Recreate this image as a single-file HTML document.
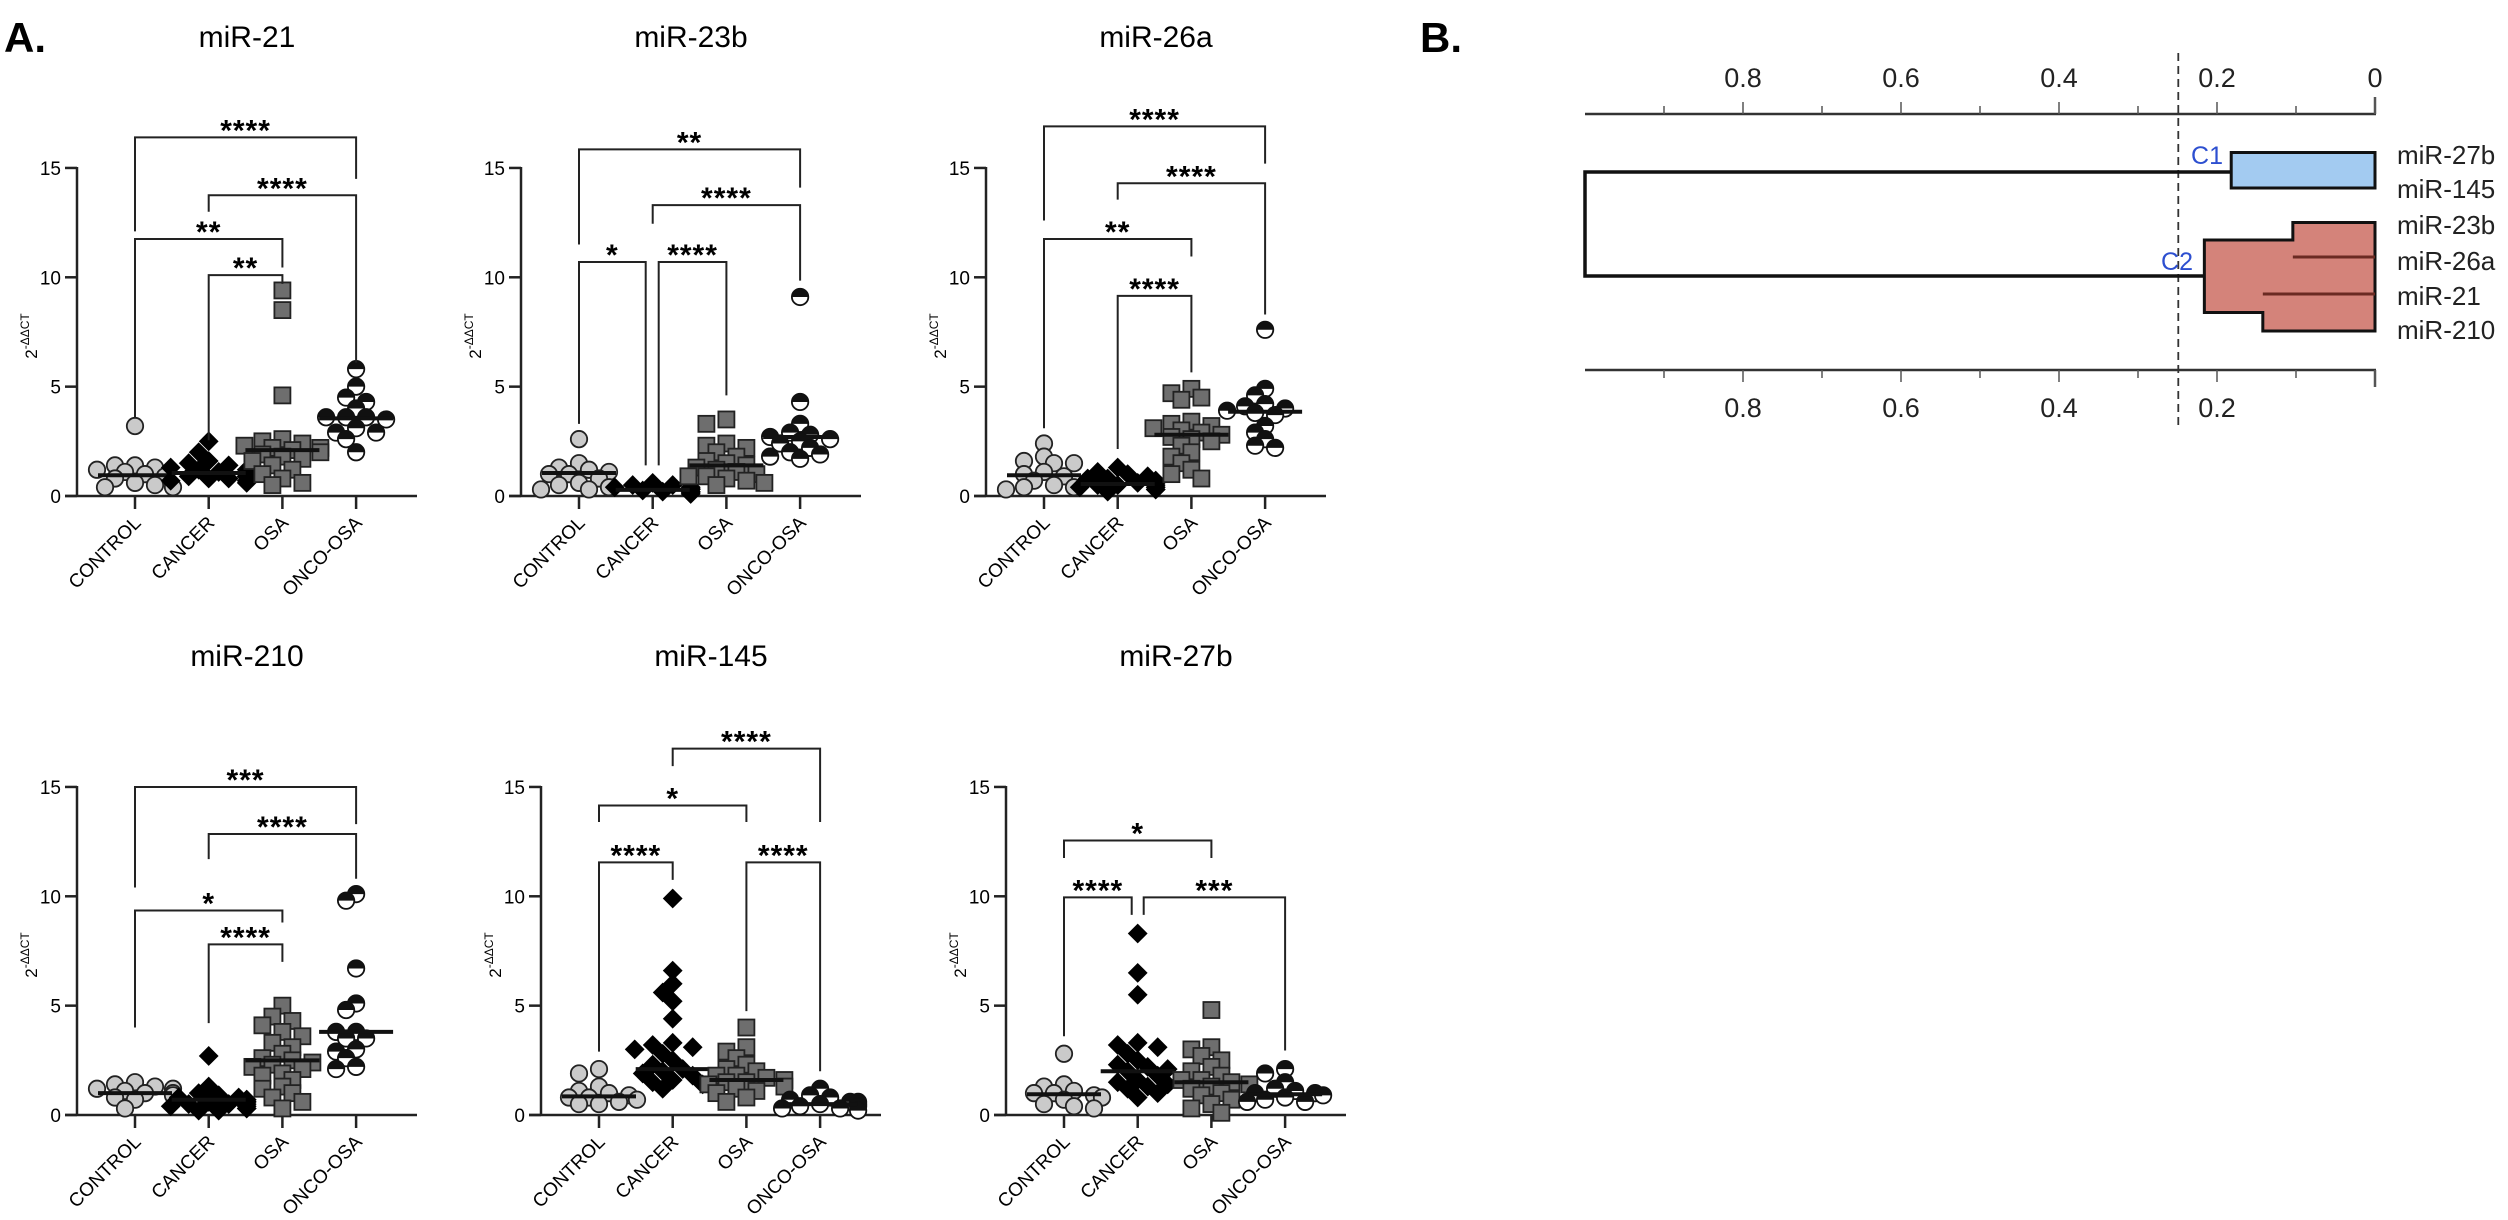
<!DOCTYPE html>
<html><head><meta charset="utf-8"><style>
html,body{margin:0;padding:0;background:#fff;}
svg{display:block;font-family:"Liberation Sans",Arial,sans-serif;}
</style></head><body>
<svg id="fig" width="2508" height="1220" viewBox="0 0 2508 1220" xmlns="http://www.w3.org/2000/svg">
<text x="4" y="52" font-size="42" font-weight="bold">A.</text>
<text x="1420" y="52" font-size="42" font-weight="bold">B.</text>
<g id="dendro"></g>
</svg>
<script>
const groups = ["CONTROL","CANCER","OSA","ONCO-OSA"];
const yTicks = [0,5,10,15];
const titles = ["miR-21","miR-23b","miR-26a","miR-210","miR-145","miR-27b"];

const p1Control=[3.2,1.4,1.3,1.2,1.4,1.0,0.9,0.8,0.6,0.5,0.4,0.4,1.1];
const p1Cancer=[2.5,2.0,1.6,1.4,1.3,1.2,1.1,1.0,0.9,0.9,0.8,0.7,0.7,0.6,1.5,1.2,1.0,0.8,1.1,0.9];
const p1Osa=[9.4,8.5,4.6,2.6,2.5,2.4,2.3,2.2,2.2,2.0,1.9,1.8,1.6,1.4,1.2,1.0,0.8,0.6,0.5,2.1,1.7];
const p1Onco=[5.8,5.0,4.5,4.3,4.0,3.6,3.6,3.6,3.5,3.1,2.9,2.9,2.6,2.0];
const p1Median=[0.95,1.05,2.1,3.55];

const p2Control=[2.6,1.5,1.3,1.2,1.1,1.0,1.0,0.8,0.6,0.4,0.3,0.3,0.5];
const p2Cancer=[0.6,0.5,0.5,0.4,0.4,0.3,0.3,0.3,0.2,0.2,0.2,0.15,0.1,0.35,0.25,0.4,0.3,0.2,0.1,0.3];
const p2Osa=[3.5,3.3,2.4,2.3,2.2,2.0,1.8,1.6,1.4,1.3,1.2,1.0,0.9,0.8,0.7,0.6,0.5,1.1,1.5,0.9];
const p2Onco=[9.1,4.3,3.3,2.9,2.8,2.7,2.6,2.5,2.4,2.2,2.0,1.9,1.8,1.7];
const p2Median=[1.05,0.28,1.4,2.7];

const p3Control=[2.4,1.8,1.6,1.5,1.5,1.1,1.0,0.9,0.7,0.4,0.4,0.3,0.5];
const p3Cancer=[1.3,1.1,1.0,0.9,0.8,0.8,0.7,0.7,0.6,0.6,0.5,0.5,0.4,0.4,0.3,0.3,0.2,0.6,0.5,0.4];
const p3Osa=[4.9,4.7,4.5,4.4,3.4,3.3,3.2,3.1,3.0,2.9,2.8,2.7,2.6,2.5,2.3,2.0,1.8,1.5,1.2,1.0,0.8];
const p3Onco=[7.6,4.9,4.6,4.2,4.1,4.0,3.9,3.8,3.7,3.2,2.9,2.6,2.3,2.2];
const p3Median=[0.95,0.55,2.8,3.85];

const p4Control=[1.5,1.4,1.3,1.2,1.1,1.0,1.0,0.9,0.8,0.7,0.3,1.2];
const p4Cancer=[2.7,1.3,1.0,0.9,0.8,0.8,0.7,0.7,0.6,0.6,0.5,0.5,0.4,0.4,0.3,0.3,0.2,0.2,0.6,0.5];
const p4Osa=[5.0,4.5,4.3,4.1,3.8,3.6,3.3,3.1,2.8,2.6,2.5,2.4,2.3,2.1,1.9,1.6,1.3,1.2,1.0,0.8,0.6,0.3,2.2,1.8];
const p4Onco=[10.1,9.8,6.7,5.1,4.8,3.8,3.8,3.5,3.5,3.0,2.9,2.6,2.2,2.1];
const p4Median=[1.0,0.7,2.5,3.8];

const p5Control=[2.1,1.9,1.3,1.1,1.0,0.9,0.8,0.8,0.7,0.6,0.5,0.5];
const p5Cancer=[9.9,6.6,6.0,5.6,5.2,4.4,3.3,3.2,3.1,3.0,2.8,2.5,2.3,2.1,2.0,1.9,1.8,1.6,1.5,1.4,1.2];
const p5Osa=[4.0,3.1,2.9,2.6,2.3,2.1,2.0,1.8,1.7,1.6,1.5,1.4,1.3,1.2,1.1,1.0,0.8,0.6,1.5,1.8];
const p5Onco=[1.2,0.9,0.8,0.7,0.6,0.5,0.5,0.4,0.4,0.3,0.3,0.2,0.6];
const p5Median=[0.85,2.1,1.6,0.5];

const p6Control=[2.8,1.4,1.3,1.1,1.0,0.9,0.8,0.7,0.5,0.4,0.3,1.0];
const p6Cancer=[8.3,6.5,5.5,3.3,3.2,3.1,2.8,2.5,2.3,2.1,2.0,1.8,1.6,1.4,1.3,1.2,1.0,0.8,1.5,2.2];
const p6Osa=[4.8,3.1,3.0,2.7,2.5,2.2,2.0,1.8,1.6,1.5,1.4,1.3,1.2,1.0,0.9,0.7,0.5,0.3,0.1,1.6];
const p6Onco=[2.1,1.9,1.5,1.2,1.1,1.0,1.0,0.9,0.8,0.7,0.6,0.6];
const p6Median=[0.95,2.0,1.5,0.95];

// brackets: [fromGroup, toGroup, level, leftLegEnd, rightLegEnd, label, leftShiftPx, rightShiftPx]
const p1Brackets=[[0,3,16.4,12.1,14.5,"****",0,0],[1,3,13.75,13.0,6.1,"****",0,0],[0,2,11.75,3.6,10.45,"**",0,0],[1,2,10.1,2.55,9.7,"**",0,0]];
const p2Brackets=[[0,3,15.85,11.5,14.1,"**",0,0],[1,3,13.3,12.45,9.85,"****",0,0],[0,1,10.7,3.3,1.4,"*",0,-7],[1,2,10.7,1.4,4.6,"****",6,0]];
const p3Brackets=[[0,3,16.9,12.6,15.2,"****",0,0],[1,3,14.3,13.55,8.3,"****",0,0],[0,2,11.75,3.1,10.95,"**",0,0],[1,2,9.15,2.15,5.65,"****",0,0]];
const p4Brackets=[[0,3,15.0,10.4,13.3,"***",0,0],[1,3,12.85,11.7,10.8,"****",0,0],[0,2,9.35,4.0,8.8,"*",0,0],[1,2,7.8,4.2,7.0,"****",0,0]];
const p5Brackets=[[1,3,16.75,15.95,13.4,"****",0,0],[0,2,14.15,13.4,13.4,"*",0,0],[0,1,11.55,2.9,10.75,"****",0,0],[2,3,11.55,4.75,2.0,"****",0,0]];
const p6Brackets=[[0,2,12.55,11.75,11.75,"*",0,0],[0,1,9.95,3.6,9.15,"****",0,-6],[1,3,9.95,9.15,2.95,"***",6,0]];

const panelData=[
 [p1Control,p1Cancer,p1Osa,p1Onco,p1Median,p1Brackets],
 [p2Control,p2Cancer,p2Osa,p2Onco,p2Median,p2Brackets],
 [p3Control,p3Cancer,p3Osa,p3Onco,p3Median,p3Brackets],
 [p4Control,p4Cancer,p4Osa,p4Onco,p4Median,p4Brackets],
 [p5Control,p5Cancer,p5Osa,p5Onco,p5Median,p5Brackets],
 [p6Control,p6Cancer,p6Osa,p6Onco,p6Median,p6Brackets]];
const panelAxisX=[77,521,986,77,541,1006];
const panelZeroY=[496,496,496,1115,1115,1115];

const NS="http://www.w3.org/2000/svg";
const svg=document.getElementById('fig');
function mk(tag,attrs,parent){const e=document.createElementNS(NS,tag);for(const k in attrs)e.setAttribute(k,attrs[k]);(parent||svg).appendChild(e);return e;}

panelData.forEach((pd,pi)=>{
  const ax=panelAxisX[pi], zy=panelZeroY[pi], unit=21.87;
  const yS=v=>zy-v*unit;
  const xS=i=>ax+58+i*73.7;
  const slug=titles[pi].toLowerCase();
  const g=mk('g',{});
  
  
  const t=mk('text',{x:ax+170,y:zy-449,'font-size':30,'text-anchor':'middle'},g);
  
  
  t.textContent=titles[pi];
  const ya=mk('line',{x1:ax,y1:yS(15)-1,x2:ax,y2:zy,stroke:'#222','stroke-width':2.5},g);
  
  
  const xa=mk('line',{x1:ax-12,y1:zy,x2:ax+340,y2:zy,stroke:'#222','stroke-width':2.5},g);
  
  
  yTicks.forEach(v=>{
    mk('line',{x1:ax-12,y1:yS(v),x2:ax,y2:yS(v),stroke:'#222','stroke-width':2.5},g);
    const tl=mk('text',{x:ax-16,y:yS(v)+7,'font-size':19,'text-anchor':'end'},g);
    
    
    tl.textContent=v;
  });
  const yl=mk('text',{transform:`translate(${ax-40},${zy-160}) rotate(-90)`,'font-size':17,'text-anchor':'middle'},g);
  
  
  yl.innerHTML='2<tspan font-size="12" dy="-8">-ΔΔCT</tspan>';
  groups.forEach((gname,i)=>{
    mk('line',{x1:xS(i),y1:zy,x2:xS(i),y2:zy+13,stroke:'#222','stroke-width':2.5},g);
    const cl=mk('text',{transform:`translate(${xS(i)+7},${zy+28}) rotate(-45)`,'font-size':19,'text-anchor':'end'},g);
    
    
    cl.textContent=gname;
  });
  for(let gi=0;gi<4;gi++){
    const vals=pd[gi].slice().sort((a,b)=>b-a);
    const placed=[];
    const cx0=xS(gi);
    vals.forEach(v=>{
      const py=yS(v);
      const offs=[0,-10,10,-20,20,-30,30,-38,38];
      let ox=offs[offs.length-1];
      for(const o of offs){
        if(!placed.some(p=>Math.hypot(p[0]-o,p[1]-py)<11)){ox=o;break;}
      }
      placed.push([ox,py]);
      const px=cx0+ox;
      let m;
      if(gi===0){m=mk('circle',{cx:px,cy:py,r:8.2,fill:'#cacaca',stroke:'#222','stroke-width':1.8},g);}
      else if(gi===1){m=mk('rect',{x:px-7,y:py-7,width:14,height:14,fill:'#000',transform:`rotate(45 ${px} ${py})`},g);}
      else if(gi===2){m=mk('rect',{x:px-8,y:py-8,width:16,height:16,fill:'#6e6e6e',stroke:'#222','stroke-width':1.8},g);}
      else{
        m=mk('g',{},g);
        mk('circle',{cx:px,cy:py,r:8.2,fill:'#fff',stroke:'#111','stroke-width':1.8},m);
        mk('path',{d:`M${px-8.2} ${py} A8.2 8.2 0 0 1 ${px+8.2} ${py} Z`,fill:'#111'},m);
      }
      
      
    });
    const ml=mk('line',{x1:cx0-37,y1:yS(pd[4][gi]),x2:cx0+37,y2:yS(pd[4][gi]),stroke:'#111','stroke-width':4},g);
    
    
  }
  pd[5].forEach(b=>{
    const x1=xS(b[0])+b[6], x2=xS(b[1])+b[7], y=yS(b[2]);
    const p=mk('path',{d:`M${x1} ${yS(b[3])} L${x1} ${y} L${x2} ${y} L${x2} ${yS(b[4])}`,fill:'none',stroke:'#222','stroke-width':2},g);
    
    
    const st=mk('text',{x:(x1+x2)/2,y:y+3,'font-size':30,'font-weight':'bold','text-anchor':'middle','letter-spacing':'1'},g);
    
    
    st.textContent=b[5];
  });
});

const dTicks=[0.8,0.6,0.4,0.2];
const dLeaves=["miR-27b","miR-145","miR-23b","miR-26a","miR-21","miR-210"];
const cutHeight=0.249;
const c1Height=0.182;
const c2Height=0.216;
const c2aHeight=0.104;
const c2bHeight=0.142;
const rootHeight=1.0;
(function(){
  const dg=document.getElementById('dendro');
  const xD=v=>2375-v*790;
  const leafY=[155,189,225,261,296,330];
  const topY=114, botY=370;
  [[topY,-1],[botY,1]].forEach(([ay,dir],k)=>{
    const l=mk('line',{x1:xD(rootHeight),y1:ay,x2:xD(0)+1,y2:ay,stroke:'#333','stroke-width':2.5},dg);
    
    
    for(let i=0;i<=9;i++){
      const v=i/10;const len=i===0?17:(i%2===0?12:8);
      mk('line',{x1:xD(v),y1:ay,x2:xD(v),y2:ay+dir*len,stroke:'#555','stroke-width':i===0?2.5:1.5},dg);
    }
    const labs=k?dTicks:dTicks.concat([0]);
    labs.forEach(v=>{
      const t=mk('text',{x:xD(v),y:k?ay+47:ay-27,'font-size':27,'text-anchor':'middle',fill:'#222'},dg);
      
      
      t.textContent=String(v);
    });
  });
  const dash=mk('line',{x1:xD(cutHeight),y1:53,x2:xD(cutHeight),y2:430,stroke:'#333','stroke-width':1.8,'stroke-dasharray':'8 5'},dg);
  
  
  const root=mk('path',{d:`M${xD(c1Height)} ${(leafY[0]+leafY[1])/2} L${xD(rootHeight)} ${(leafY[0]+leafY[1])/2} L${xD(rootHeight)} 276 L${xD(c2Height)} 276`,fill:'none',stroke:'#111','stroke-width':3.5},dg);
  
  
  const c1=mk('rect',{x:xD(c1Height),y:152.5,width:xD(0)-xD(c1Height),height:35.5,fill:'#a3cbf1',stroke:'#111','stroke-width':3},dg);
  
  
  const c2=mk('path',{d:`M${xD(c2Height)} 240 L${xD(c2aHeight)} 240 L${xD(c2aHeight)} 222.5 L${xD(0)} 222.5 L${xD(0)} 331 L${xD(c2bHeight)} 331 L${xD(c2bHeight)} 312.5 L${xD(c2Height)} 312.5 Z`,fill:'#d4837a',stroke:'#111','stroke-width':3},dg);
  
  
  mk('line',{x1:xD(c2aHeight),y1:257,x2:xD(0),y2:257,stroke:'#6a2a22','stroke-width':3},dg);
  mk('line',{x1:xD(c2bHeight),y1:294,x2:xD(0),y2:294,stroke:'#6a2a22','stroke-width':3},dg);
  const l1=mk('text',{x:2207,y:164,'font-size':25,'text-anchor':'middle',fill:'#2d4fd0'},dg);
  
  
  l1.textContent='C1';
  const l2=mk('text',{x:2177,y:270,'font-size':25,'text-anchor':'middle',fill:'#2d4fd0'},dg);
  
  
  l2.textContent='C2';
  dLeaves.forEach((n,i)=>{
    const t=mk('text',{x:2397,y:leafY[i]+9,'font-size':26,fill:'#222'},dg);
    
    
    t.textContent=n;
  });
})();
</script>
</body></html>
